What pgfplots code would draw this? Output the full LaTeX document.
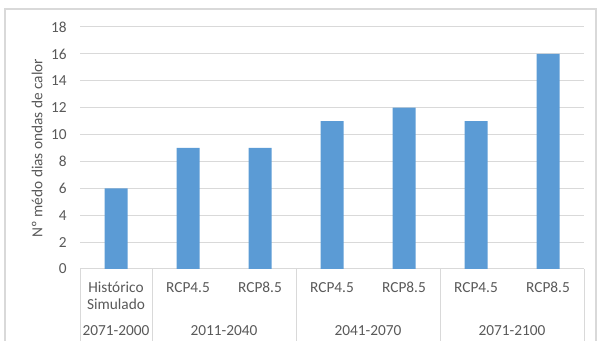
\documentclass[border=0pt]{standalone}
\usepackage{fontspec}
\setmainfont{Carlito}
\usepackage{pgfplots}
\pgfplotsset{compat=1.18}
\definecolor{barblue}{HTML}{5B9BD5}
\definecolor{gridgray}{HTML}{D9D9D9}
\definecolor{txtgray}{HTML}{595959}
\begin{document}
\fontsize{11.5pt}{13pt}\selectfont
\begin{tikzpicture}[x=0.75pt,y=0.75pt]
\path[use as bounding box] (0,0) rectangle (600,341);
\draw[gridgray, line width=0.9pt] (5,-10) rectangle (596,332);
\node[txtgray, rotate=90, anchor=center, font=\fontsize{11.5pt}{13pt}\selectfont] at (37,193) {Nº médo dias ondas de calor};
\begin{axis}[
  at={(60pt,54pt)}, anchor=south west,
  scale only axis, width=378pt, height=181.5pt,
  xmin=-0.5, xmax=6.5, ymin=0, ymax=18,
  ytick={0,2,...,18}, xtick=\empty,
  ymajorgrids, grid style={gridgray, line width=0.75pt},
  axis line style={draw=none}, major tick length=0pt,
  /pgf/number format/assume math mode=true,
  yticklabel style={txtgray, anchor=east, xshift=-6pt},
  tick label style={font=\fontsize{11.5pt}{13pt}\selectfont},
  clip=false,
]
\addplot[ybar, bar width=17.25pt, fill=barblue, draw=none] coordinates {(0,6) (1,9) (2,9) (3,11) (4,12) (5,11) (6,16)};
\foreach \xx in {-0.5,0.5,2.5,4.5,6.5} {
  \edef\tmp{\noexpand\draw[gridgray, line width=0.75pt] (axis cs:\xx,0) -- ++(0pt,-60pt);}\tmp
}
\node[txtgray] at ([yshift=-13.5pt]axis cs:0,0) {Histórico};
\node[txtgray] at ([yshift=-26.5pt]axis cs:0,0) {Simulado};
\node[txtgray] at ([yshift=-14pt]axis cs:1,0) {RCP4.5};
\node[txtgray] at ([yshift=-14pt]axis cs:2,0) {RCP8.5};
\node[txtgray] at ([yshift=-14pt]axis cs:3,0) {RCP4.5};
\node[txtgray] at ([yshift=-14pt]axis cs:4,0) {RCP8.5};
\node[txtgray] at ([yshift=-14pt]axis cs:5,0) {RCP4.5};
\node[txtgray] at ([yshift=-14pt]axis cs:6,0) {RCP8.5};
\node[txtgray] at ([yshift=-46.5pt]axis cs:0,0) {2071-2000};
\node[txtgray] at ([yshift=-46.5pt]axis cs:1.5,0) {2011-2040};
\node[txtgray] at ([yshift=-46.5pt]axis cs:3.5,0) {2041-2070};
\node[txtgray] at ([yshift=-46.5pt]axis cs:5.5,0) {2071-2100};
\end{axis}
\end{tikzpicture}
\end{document}
